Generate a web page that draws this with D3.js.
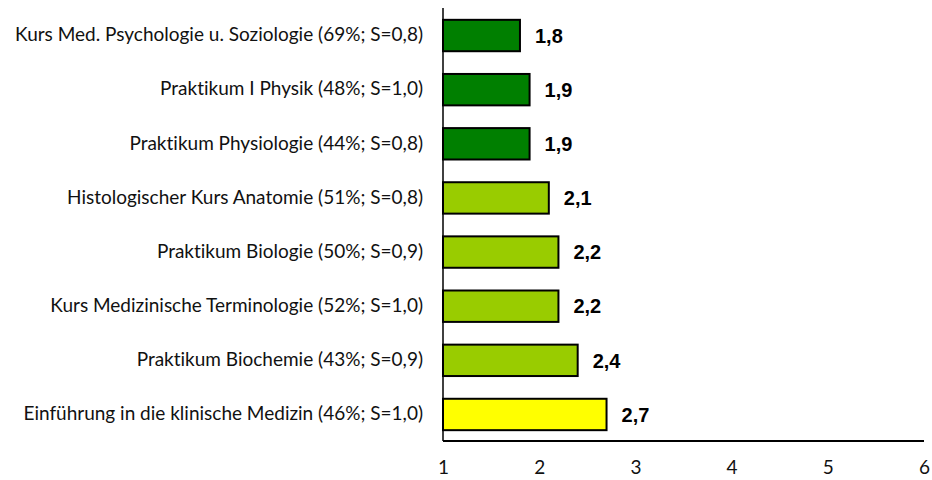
<!DOCTYPE html>
<html>
<head>
<meta charset="utf-8">
<script src="https://cdn.jsdelivr.net/npm/d3@7"></script>
<style>
  body { margin: 0; background: #fff; }
  svg { display: block; }
  text { font-variant-ligatures: none; }
</style>
</head>
<body>
<svg id="chart"></svg>
<script>
// data, top to bottom
const categories = [
    "Kurs Med. Psychologie u. Soziologie (69%; S=0,8)",
    "Praktikum I Physik (48%; S=1,0)",
    "Praktikum Physiologie (44%; S=0,8)",
    "Histologischer Kurs Anatomie (51%; S=0,8)",
    "Praktikum Biologie (50%; S=0,9)",
    "Kurs Medizinische Terminologie (52%; S=1,0)",
    "Praktikum Biochemie (43%; S=0,9)",
    "Einführung in die klinische Medizin (46%; S=1,0)"
];
const values = [1.8, 1.9, 1.9, 2.1, 2.2, 2.2, 2.4, 2.7];
const valueLabels = ["1,8", "1,9", "1,9", "2,1", "2,2", "2,2", "2,4", "2,7"];
const xTicks = [1, 2, 3, 4, 5, 6];

const width = 932;
const height = 480;

let svg = d3.select("#chart")
    .attr("width", width)
    .attr("height", height);

// colour by grade band
function barColour(v) {
    if (v < 2) return "#007f00";
    if (v < 2.5) return "#99cc00";
    return "#ffff00";
}

const xScale = d3.scaleLinear()
    .domain([1, 6])
    .range([443, 924]);

const yScale = d3.scaleBand()
    .domain(categories)
    .range([9, 441])
    .paddingInner(0.42)
    .paddingOuter(0.2);

const labelFont = "Lato, 'Open Sans', sans-serif";

// bars
svg.selectAll(".bar")
    .data(categories)
    .enter().append("rect")
    .attr("class", "bar")
    .attr("x", xScale(1))
    .attr("y", d => yScale(d))
    .attr("width", (d, i) => xScale(values[i]) - xScale(1))
    .attr("height", yScale.bandwidth())
    .attr("fill", (d, i) => barColour(values[i]))
    .attr("stroke", "#000")
    .attr("stroke-width", 2);

// value labels
svg.selectAll(".value")
    .data(categories)
    .enter().append("text")
    .attr("class", "value")
    .attr("x", (d, i) => xScale(values[i]) + 15)
    .attr("y", d => yScale(d) + yScale.bandwidth() / 2 + 2)
    .attr("dominant-baseline", "middle")
    .style("font-family", "Arial, 'Liberation Sans', sans-serif")
    .style("font-weight", "bold")
    .style("font-size", "20px")
    .text((d, i) => valueLabels[i]);

// y axis: labels only, plus the line
const yAxis = d3.axisLeft(yScale).tickSize(0).tickPadding(20);
const yG = svg.append("g")
    .attr("transform", `translate(${xScale(1)},0)`)
    .call(yAxis);
yG.select(".domain").remove();
yG.selectAll("text")
    .style("font-family", labelFont)
    .style("font-size", "19px")
    .attr("dy", "0.3em")
    .attr("fill", "#111");

// x axis
const xAxis = d3.axisBottom(xScale).tickValues(xTicks).tickSize(0).tickPadding(20)
    .tickFormat(d3.format("d"));
const xG = svg.append("g")
    .attr("transform", "translate(0,441)")
    .call(xAxis);
xG.select(".domain").remove();
xG.selectAll("text")
    .style("font-family", labelFont)
    .style("font-size", "19px")
    .attr("fill", "#111");

// axis lines
svg.append("line")
    .attr("x1", xScale(1)).attr("x2", xScale(1))
    .attr("y1", 8).attr("y2", 441)
    .attr("stroke", "#000").attr("stroke-width", 1.5);
svg.append("line")
    .attr("x1", xScale(1)).attr("x2", xScale(6))
    .attr("y1", 441).attr("y2", 441)
    .attr("stroke", "#000").attr("stroke-width", 2);
</script>
</body>
</html>
